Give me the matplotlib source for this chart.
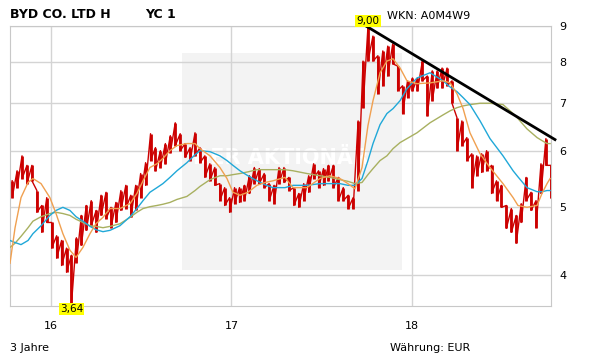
import numpy as np
import matplotlib
matplotlib.use("Agg")
import matplotlib.pyplot as plt
from matplotlib.patches import Rectangle

# Kursbalken (10-Tages-Raster), Hoch / Tief in EUR
bar_start = 2015.785
bar_step = 10 / 365.25
highs = [5.44, 5.62, 5.90, 5.72, 5.72, 5.27, 5.02, 5.15, 4.75, 4.55,
         4.48, 4.37, 4.27, 4.52, 4.86, 5.02, 5.10, 4.94, 5.19, 5.24,
         4.99, 5.07, 5.27, 5.36, 5.19, 5.36, 5.57, 5.77, 6.34, 6.06,
         6.00, 6.14, 6.30, 6.57, 6.34, 6.14, 6.06, 6.36, 6.06, 5.90,
         5.75, 5.68, 5.39, 5.32, 5.15, 5.32, 5.32, 5.36, 5.53, 5.68,
         5.66, 5.57, 5.39, 5.36, 5.68, 5.68, 5.50, 5.32, 5.22, 5.39,
         5.53, 5.75, 5.62, 5.66, 5.72, 5.72, 5.50, 5.32, 5.19, 5.15,
         6.61, 8.03, 9.00, 8.71, 8.17, 8.30, 8.43, 8.49, 7.90, 7.41,
         7.53, 7.60, 7.60, 8.03, 7.65, 7.78, 7.78, 7.85, 7.85, 7.53,
         6.68, 6.61, 6.26, 5.94, 5.90, 5.94, 6.00, 5.72, 5.44, 5.36,
         5.02, 4.97, 4.86, 5.05, 5.50, 5.24, 5.10, 5.75, 6.24, 5.72]
lows = [5.15, 5.32, 5.48, 5.39, 5.44, 4.91, 4.60, 4.75, 4.37, 4.23,
        4.13, 4.04, 3.64, 4.17, 4.41, 4.63, 4.70, 4.60, 4.86, 4.81,
        4.67, 4.75, 4.94, 4.97, 4.83, 4.94, 5.15, 5.36, 5.81, 5.62,
        5.68, 5.75, 5.96, 6.10, 6.00, 5.87, 5.81, 5.90, 5.77, 5.50,
        5.44, 5.36, 5.10, 5.02, 4.91, 5.05, 5.07, 5.10, 5.22, 5.39,
        5.39, 5.32, 5.10, 5.05, 5.39, 5.41, 5.27, 5.02, 4.99, 5.10,
        5.24, 5.48, 5.32, 5.36, 5.44, 5.32, 5.10, 5.10, 4.97, 4.97,
        5.27, 6.90, 8.03, 8.03, 7.22, 7.41, 7.65, 7.96, 7.29, 6.77,
        7.13, 7.29, 7.29, 7.53, 6.72, 7.06, 7.36, 7.36, 7.41, 7.00,
        6.00, 6.10, 5.81, 5.32, 5.53, 5.59, 5.62, 5.22, 5.10, 4.99,
        4.66, 4.60, 4.44, 4.75, 5.10, 4.94, 4.67, 5.22, 5.72, 5.15]

# gleitende Durchschnitte
ma_t = [2015.773, 2015.801, 2015.834, 2015.873, 2015.900, 2015.945, 2015.994, 2016.028, 2016.066, 2016.105,
        2016.139, 2016.177, 2016.216, 2016.249, 2016.288, 2016.327, 2016.382, 2016.438, 2016.476, 2016.510,
        2016.548, 2016.587, 2016.620, 2016.659, 2016.698, 2016.753, 2016.798, 2016.825, 2016.881, 2016.936,
        2016.975, 2017.008, 2017.047, 2017.091, 2017.141, 2017.186, 2017.230, 2017.296, 2017.341, 2017.418,
        2017.490, 2017.546, 2017.601, 2017.645, 2017.684, 2017.723, 2017.756, 2017.784, 2017.823, 2017.861,
        2017.895, 2017.934, 2017.972, 2018.028, 2018.100, 2018.172, 2018.211, 2018.249, 2018.283, 2018.321,
        2018.377, 2018.432, 2018.504, 2018.560, 2018.587, 2018.637, 2018.693, 2018.720, 2018.748, 2018.765]
ma_short = [4.16, 4.67, 5.15, 5.41, 5.48, 5.39, 5.15, 4.89, 4.58, 4.34,
            4.24, 4.38, 4.58, 4.73, 4.83, 4.97, 4.97, 5.05, 5.22, 5.44,
            5.68, 5.75, 5.85, 6.00, 6.10, 6.14, 6.14, 6.04, 5.90, 5.68,
            5.48, 5.24, 5.19, 5.24, 5.36, 5.41, 5.44, 5.50, 5.32, 5.32,
            5.48, 5.53, 5.48, 5.39, 5.30, 5.68, 6.51, 7.06, 7.73, 8.03,
            8.09, 7.85, 7.53, 7.46, 7.48, 7.53, 7.48, 7.22, 6.88, 6.36,
            5.94, 5.68, 5.39, 5.15, 5.02, 4.99, 5.02, 5.22, 5.39, 5.48]
ma_mid = [4.48, 4.45, 4.42, 4.48, 4.58, 4.70, 4.86, 4.94, 4.99, 4.94,
          4.84, 4.77, 4.69, 4.64, 4.61, 4.63, 4.70, 4.84, 4.97, 5.10,
          5.24, 5.32, 5.39, 5.50, 5.62, 5.77, 5.92, 6.00, 5.98, 5.90,
          5.81, 5.72, 5.62, 5.53, 5.44, 5.37, 5.32, 5.32, 5.36, 5.36,
          5.39, 5.39, 5.39, 5.36, 5.36, 5.48, 5.81, 6.14, 6.53, 6.77,
          6.88, 7.06, 7.34, 7.60, 7.73, 7.53, 7.38, 7.27, 7.13, 6.97,
          6.61, 6.24, 5.90, 5.62, 5.51, 5.32, 5.25, 5.25, 5.27, 5.27]
ma_long = [4.38, 4.44, 4.54, 4.67, 4.77, 4.84, 4.89, 4.91, 4.89, 4.86,
           4.80, 4.75, 4.70, 4.69, 4.67, 4.69, 4.73, 4.83, 4.91, 4.97,
           5.00, 5.02, 5.04, 5.07, 5.12, 5.17, 5.27, 5.34, 5.46, 5.53,
           5.53, 5.55, 5.57, 5.60, 5.64, 5.64, 5.64, 5.64, 5.62, 5.57,
           5.53, 5.50, 5.46, 5.43, 5.39, 5.41, 5.55, 5.66, 5.81, 5.90,
           6.04, 6.16, 6.24, 6.36, 6.57, 6.74, 6.83, 6.90, 6.94, 6.97,
           7.00, 7.00, 6.97, 6.77, 6.66, 6.44, 6.26, 6.20, 6.14, 6.14]

# Trendlinie
trend_t = [2017.745, 2018.792]
trend_v = [9.00, 6.22]

y_ticks = [4, 5, 6, 7, 8, 9]
x_ticks = [2016, 2017, 2018]
x_labels = ["16", "17", "18"]

bar_t = bar_start + bar_step * np.arange(len(highs))

fig = plt.figure(figsize=(6.11, 3.64), dpi=100)
ax = fig.add_axes([10 / 611, 1 - 306 / 364, 541 / 611, 280 / 364])

ax.set_yscale("log")
ax.set_ylim(3.62, 9.0)
ax.set_xlim(2015.773, 2018.770)

# Wasserzeichen
ax.add_patch(Rectangle((0.318, 0.129), 0.407, 0.775, transform=ax.transAxes,
                       facecolor="#f3f3f3", edgecolor="none", zorder=0.2))
ax.text(0.50, 0.53, "DER AKTIONÄR", transform=ax.transAxes, color="white",
        fontsize=15, fontweight="bold", ha="center", va="center", zorder=0.3)

# Balken + Zickzack zwischen Hoch und Tief, damit es wie Tageskerzen wirkt
ax.vlines(bar_t, lows, highs, color="#cc0000", lw=2.0, zorder=2)
zz_t = np.repeat(bar_t, 2)
zz_v = np.ravel(np.column_stack([highs, lows]))
ax.plot(zz_t, zz_v, color="#cc0000", lw=1.0, zorder=2)

ax.plot(ma_t, ma_long, color="#a8b060", lw=1.0, zorder=3)
ax.plot(ma_t, ma_mid, color="#20a8d8", lw=1.0, zorder=3)
ax.plot(ma_t, ma_short, color="#f0a050", lw=1.0, zorder=3)
ax.plot(trend_t, trend_v, color="black", lw=2.0, zorder=4, clip_on=False)

ax.set_yticks(y_ticks)
ax.set_yticklabels([str(v) for v in y_ticks])
ax.yaxis.set_minor_locator(matplotlib.ticker.NullLocator())
ax.set_xticks(x_ticks)
ax.set_xticklabels(x_labels)
ax.yaxis.tick_right()
ax.tick_params(axis="both", length=0, labelsize=8)
ax.tick_params(axis="y", pad=6)
ax.tick_params(axis="x", pad=11)
ax.set_axisbelow(True)
ax.grid(True, color="#d4d4d4", lw=1.0)
for s in ax.spines.values():
    s.set_color("#c8c8c8")

# Hoch / Tief Markierungen
i_hi = int(np.argmax(highs))
i_lo = int(np.argmin(lows))
ax.text(bar_t[i_hi], highs[i_hi], "9,00", fontsize=7.5, ha="center", va="bottom",
        bbox=dict(boxstyle="square,pad=0.1", fc="#ffff00", ec="none"), zorder=5)
ax.text(bar_t[i_lo], lows[i_lo], "3,64", fontsize=7.5, ha="center", va="top",
        bbox=dict(boxstyle="square,pad=0.1", fc="#ffff00", ec="none"), zorder=5)

fig.text(10 / 611, 1 - 14 / 364, "BYD CO. LTD H", fontsize=9, fontweight="bold", va="center")
fig.text(145 / 611, 1 - 14 / 364, "YC 1", fontsize=9, fontweight="bold", va="center")
fig.text(387 / 611, 1 - 16 / 364, "WKN: A0M4W9", fontsize=8, va="center")
fig.text(10 / 611, 1 - 348 / 364, "3 Jahre", fontsize=8, va="center")
fig.text(390 / 611, 1 - 348 / 364, "Währung: EUR", fontsize=8, va="center")

fig.savefig("out.png", dpi=100)
